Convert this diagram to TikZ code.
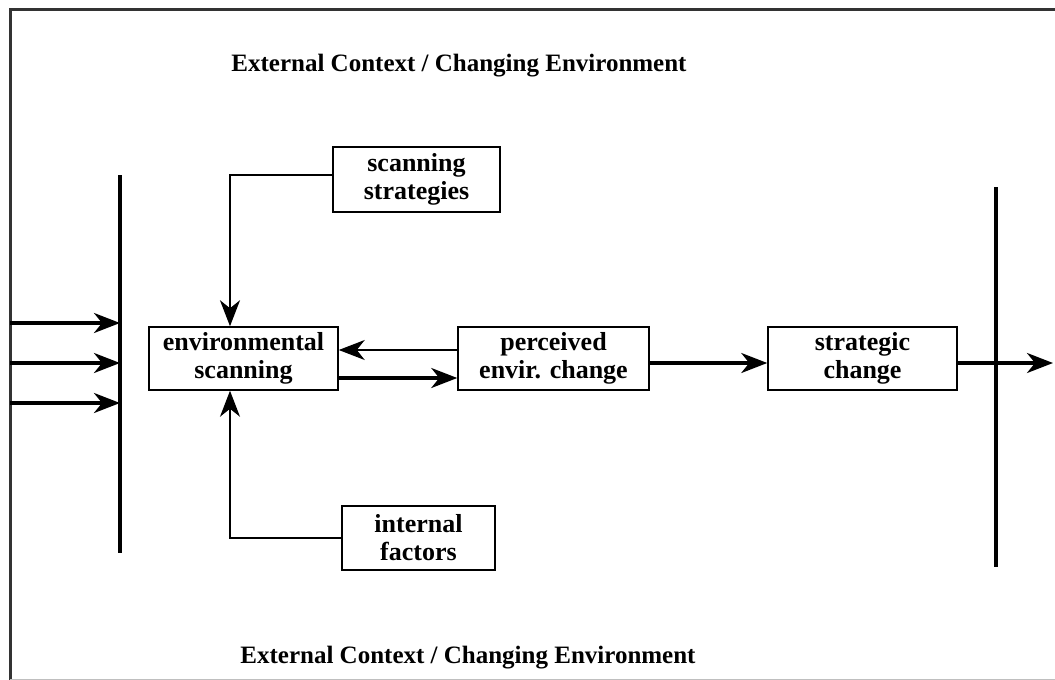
\documentclass[tikz,border=0pt]{standalone}
\usepackage{fontspec}
\setmainfont{Liberation Serif}
\usetikzlibrary{arrows.meta}

\begin{document}
\begin{tikzpicture}[x=1pt,y=-1pt,
    box/.style={draw, line width=1.5pt, minimum width=189pt, minimum height=63pt,
      inner sep=0pt, align=center, font=\fontsize{26}{28}\selectfont\bfseries},
    heavy/.style={line width=3.2pt, -{Stealth[length=26pt,width=20pt,inset=8pt]}},
    light/.style={line width=1.7pt, -{Stealth[length=26pt,width=20pt,inset=8pt]}},
    bar/.style={line width=3.5pt},
    title/.style={font=\fontsize{25}{28}\selectfont\bfseries}]
     \useasboundingbox (0,0) rectangle (1055,680);
     % frame
     \draw[line width=3pt, black!80] (10,680) -- (10,9) -- (1055,9);
     \draw[line width=1pt, black!25] (10,679) -- (1055,679);
     % titles
     \node[title] (toptitle) at (459,66) {External Context / Changing Environment};
     \node[title] (bottitle) at (468,658) {External Context / Changing Environment};
     % boxes
     \node[box] (scan) at (243.5,358.5) {environmental\\scanning};
     \node[box, minimum width=191pt] (perc) at (553.5,358.5) {perceived\\envir. change};
     \node[box] (strat) at (862.5,358.5) {strategic\\change};
     \node[box, minimum width=167pt, minimum height=65pt] (strats) at (416.5,179.5) {scanning\\strategies};
     \node[box, minimum width=153pt, minimum height=64pt] (intern) at (418.5,538) {internal\\factors};
     % boundary bars
     \coordinate (lbtop) at (120,175);
     \coordinate (lbbot) at (120,553);
     \coordinate (rbtop) at (996,187);
     \coordinate (rbbot) at (996,567);
     \draw[bar] (lbtop) -- (lbbot);
     \draw[bar] (rbtop) -- (rbbot);
     % inputs
     \foreach \y in {323,363,403}{
       \coordinate (in\y) at (10,\y);
       \draw[heavy] (in\y) -- (in\y -| lbtop);
     }
     % connectors
     \draw[light, line width=2.4pt] ([yshift=4.5pt]strats.west) -| ([xshift=-13.5pt]scan.north);
     \draw[light] (intern.west) -| ([xshift=-13.5pt]scan.south);
     \draw[light] ([yshift=8.5pt]perc.west) -- ([yshift=8.5pt]scan.east);
     \draw[heavy] ([yshift=-19.5pt]scan.east) -- ([yshift=-19.5pt]perc.west);
     \draw[heavy] ([yshift=-4.5pt]perc.east) -- ([yshift=-4.5pt]strat.west);
     \coordinate (out) at (1053,363);
     \draw[heavy] ([yshift=-4.5pt]strat.east) -- (out);
\end{tikzpicture}
\end{document}
